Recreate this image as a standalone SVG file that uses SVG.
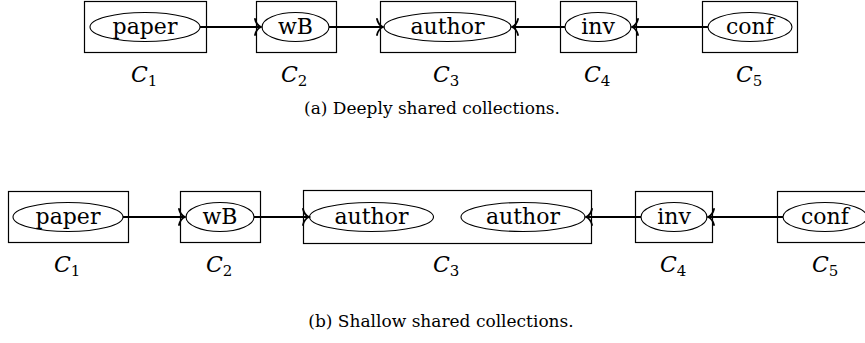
<svg xmlns="http://www.w3.org/2000/svg" width="865" height="343" viewBox="0 0 865 343">
<defs>
<style>
.box{fill:none;stroke:#000;stroke-width:1.2}
.ell{fill:#fff;stroke:#000;stroke-width:1.1}
.lbl{font-family:'DejaVu Serif','Liberation Serif',serif;font-size:22px;text-anchor:middle;fill:#000}
.math{font-family:'DejaVu Serif','Liberation Serif',serif;font-size:22px;font-style:italic;fill:#000}
.sub{font-style:normal;font-size:15px}
.cap{font-family:'DejaVu Serif','Liberation Serif',serif;font-size:17px;text-anchor:middle;fill:#000}
.edge{fill:none;stroke:#000;stroke-width:1.8}
</style>
<marker id="arr" viewBox="-10 -10 12 20" markerWidth="12" markerHeight="20" refX="0" refY="0" orient="auto" markerUnits="userSpaceOnUse">
<path d="M-6,-8 C-5,-3.5 -2,-0.8 0,0 C-2,0.8 -5,3.5 -6,8" fill="none" stroke="#000" stroke-width="1.8" stroke-linecap="round"/>
</marker>
</defs>

<!-- (a) Deeply shared collections -->
<g id="a-C1">
<rect class="box" x="84.5" y="1.5" width="122" height="51"/>
<ellipse class="ell" cx="145" cy="27" rx="55" ry="14.5"/>
<text class="lbl" x="145" y="34">paper</text>
</g>
<g id="a-C2">
<rect class="box" x="256.5" y="1.5" width="80" height="51"/>
<ellipse class="ell" cx="295.5" cy="27" rx="33.5" ry="14.5"/>
<text class="lbl" x="295.5" y="34">wB</text>
</g>
<g id="a-C3">
<rect class="box" x="380.5" y="1.5" width="135" height="51"/>
<ellipse class="ell" cx="447.5" cy="27" rx="63.5" ry="14.5"/>
<text class="lbl" x="447.5" y="34">author</text>
</g>
<g id="a-C4">
<rect class="box" x="560.5" y="1.5" width="76" height="51"/>
<ellipse class="ell" cx="598" cy="27" rx="33" ry="14.5"/>
<text class="lbl" x="598" y="34">inv</text>
</g>
<g id="a-C5">
<rect class="box" x="702.5" y="1.5" width="95" height="51"/>
<ellipse class="ell" cx="750" cy="27" rx="42" ry="14.5"/>
<text class="lbl" x="750" y="34">conf</text>
</g>

<!-- (b) Shallow shared collections -->
<g id="b-C1">
<rect class="box" x="8.5" y="191.5" width="120" height="51"/>
<ellipse class="ell" cx="68" cy="217" rx="55" ry="14.5"/>
<text class="lbl" x="68" y="224">paper</text>
</g>
<g id="b-C2">
<rect class="box" x="180.5" y="191.5" width="80" height="51"/>
<ellipse class="ell" cx="220" cy="217" rx="34" ry="14.5"/>
<text class="lbl" x="220" y="224">wB</text>
</g>
<g id="b-C3">
<rect class="box" x="303.5" y="190.5" width="288" height="53"/>
<ellipse class="ell" cx="371.5" cy="217" rx="62" ry="14.5"/>
<text class="lbl" x="371.5" y="224">author</text>
<ellipse class="ell" cx="523" cy="217" rx="62" ry="14.5"/>
<text class="lbl" x="523" y="224">author</text>
</g>
<g id="b-C4">
<rect class="box" x="635.5" y="191.5" width="77" height="51"/>
<ellipse class="ell" cx="674" cy="217" rx="33" ry="14.5"/>
<text class="lbl" x="674" y="224">inv</text>
</g>
<g id="b-C5">
<rect class="box" x="777.5" y="191.5" width="95" height="51"/>
<ellipse class="ell" cx="825" cy="217" rx="42" ry="14.5"/>
<text class="lbl" x="825" y="224">conf</text>
</g>

<g id="connectors">
<path class="edge" d="M200,27 H261" marker-end="url(#arr)"/>
<path class="edge" d="M329,27 H383" marker-end="url(#arr)"/>
<path class="edge" d="M565,27 H512" marker-end="url(#arr)"/>
<path class="edge" d="M708,27 H632" marker-end="url(#arr)"/>
<path class="edge" d="M123,217 H185" marker-end="url(#arr)"/>
<path class="edge" d="M254,217 H309" marker-end="url(#arr)"/>
<path class="edge" d="M641,217 H586" marker-end="url(#arr)"/>
<path class="edge" d="M783,217 H708" marker-end="url(#arr)"/>
</g>

<g id="labels">
<text class="math" x="131" y="82">C<tspan class="sub" dy="4">1</tspan></text>
<text class="math" x="281" y="82">C<tspan class="sub" dy="4">2</tspan></text>
<text class="math" x="433" y="82">C<tspan class="sub" dy="4">3</tspan></text>
<text class="math" x="584" y="82">C<tspan class="sub" dy="4">4</tspan></text>
<text class="math" x="736" y="82">C<tspan class="sub" dy="4">5</tspan></text>
<text class="math" x="54" y="272">C<tspan class="sub" dy="4">1</tspan></text>
<text class="math" x="206" y="272">C<tspan class="sub" dy="4">2</tspan></text>
<text class="math" x="433" y="272">C<tspan class="sub" dy="4">3</tspan></text>
<text class="math" x="660" y="272">C<tspan class="sub" dy="4">4</tspan></text>
<text class="math" x="812" y="272">C<tspan class="sub" dy="4">5</tspan></text>
<text class="cap" x="432" y="114">(a) Deeply shared collections.</text>
<text class="cap" x="441" y="327">(b) Shallow shared collections.</text>
</g>
</svg>
